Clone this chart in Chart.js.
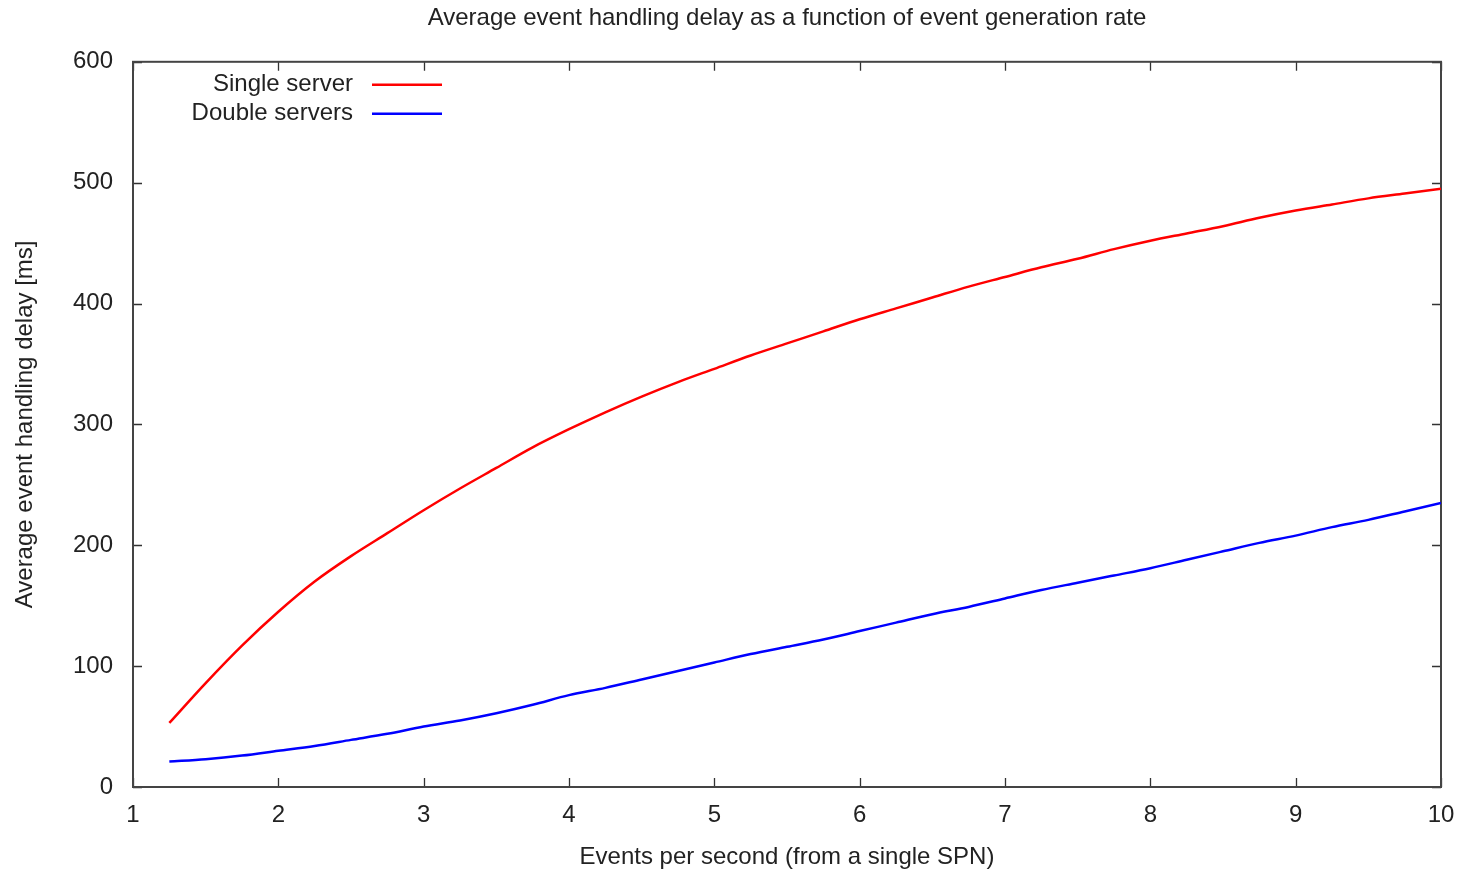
<!DOCTYPE html>
<html>
<head>
<meta charset="utf-8">
<title>Average event handling delay</title>
<script src="https://cdn.jsdelivr.net/npm/chart.js@4.4.1/dist/chart.umd.min.js"></script>
<style>
  html, body { margin: 0; padding: 0; background: #fff; overflow: hidden; }
  #wrap { width: 1459px; height: 872px; }
</style>
</head>
<body>
<div id="wrap"><canvas id="delayChart"></canvas></div>
<script>
// events per second (x) and average delay in ms
const rates = [1.25, 1.5, 1.75, 2, 2.25, 2.5, 2.75, 3, 3.25, 3.5, 3.75, 4, 4.25, 4.5, 4.75, 5,
  5.25, 5.5, 5.75, 6, 6.25, 6.5, 6.75, 7, 7.25, 7.5, 7.75, 8, 8.25, 8.5, 8.75, 9, 9.25, 9.5, 9.75, 10];
const singleServer = [53, 86, 117, 145, 170, 191, 210, 229, 247, 264, 281, 296, 310, 323, 335, 346,
  357, 367, 377, 387, 396, 405, 414, 422, 430, 437, 445, 452, 458, 464, 471, 477, 482, 487, 491, 495];
const doubleServers = [21, 23, 26, 30, 34, 39, 44, 50, 55, 61, 68, 76, 82, 89, 96, 103,
  110, 116, 122, 129, 136, 143, 149, 156, 163, 169, 175, 181, 188, 195, 202, 208, 215, 221, 228, 235];
const xTicks = [1, 2, 3, 4, 5, 6, 7, 8, 9, 10];
const yTicks = [0, 100, 200, 300, 400, 500, 600];

const FONT = "'Liberation Sans', Arial, sans-serif";
const TEXT = '#222';

function toPoints(xs, ys) {
    return xs.map((x, i) => ({ x: x, y: ys[i] }));
}

// gnuplot-like frame with ticks pointing inward on all four sides
const framePlugin = {
    id: 'frame',
    beforeDatasetsDraw(chart) {
        const ctx = chart.ctx;
        const a = chart.chartArea;
        const xs = chart.scales.x, ys = chart.scales.y;
        const len = 9;
        ctx.save();
        ctx.strokeStyle = '#333';
        ctx.lineWidth = 1.3;
        ctx.beginPath();
        xTicks.forEach(v => {
            const px = Math.round(xs.getPixelForValue(v)) + 0.5;
            ctx.moveTo(px, a.bottom); ctx.lineTo(px, a.bottom - len);
            ctx.moveTo(px, a.top); ctx.lineTo(px, a.top + len);
        });
        yTicks.forEach(v => {
            const py = Math.round(ys.getPixelForValue(v)) + 0.5;
            ctx.moveTo(a.left, py); ctx.lineTo(a.left + len, py);
            ctx.moveTo(a.right, py); ctx.lineTo(a.right - len, py);
        });
        ctx.stroke();
        ctx.strokeStyle = '#444';
        ctx.lineWidth = 2;
        ctx.strokeRect(a.left, a.top, a.right - a.left, a.bottom - a.top);
        ctx.restore();
    }
};

// legend in the top-left: label right-aligned, sample line to its right
const keyPlugin = {
    id: 'key',
    afterDatasetsDraw(chart) {
        const ctx = chart.ctx;
        const a = chart.chartArea;
        ctx.save();
        ctx.font = '24px ' + FONT;
        ctx.textAlign = 'right';
        ctx.textBaseline = 'middle';
        chart.data.datasets.forEach((ds, i) => {
            const y = a.top + 23 + i * 29;
            ctx.fillStyle = TEXT;
            ctx.fillText(ds.label, a.left + 220, y);
            ctx.strokeStyle = ds.borderColor;
            ctx.lineWidth = 2.5;
            ctx.beginPath();
            ctx.moveTo(a.left + 239, y);
            ctx.lineTo(a.left + 309, y);
            ctx.stroke();
        });
        ctx.restore();
    }
};

new Chart(document.getElementById('delayChart'), {
    type: 'line',
    data: {
        datasets: [{
            label: 'Single server',
            data: toPoints(rates, singleServer),
            borderColor: '#ff0000',
            borderWidth: 2.5,
            pointRadius: 0,
            cubicInterpolationMode: 'monotone',
            fill: false
        }, {
            label: 'Double servers',
            data: toPoints(rates, doubleServers),
            borderColor: '#0000ff',
            borderWidth: 2.5,
            pointRadius: 0,
            cubicInterpolationMode: 'monotone',
            fill: false
        }]
    },
    options: {
        responsive: true,
        maintainAspectRatio: false,
        animation: false,
        layout: { padding: { top: 0, right: 18, bottom: 0, left: 0 } },
        plugins: {
            legend: { display: false },
            tooltip: { enabled: false },
            title: {
                display: true,
                fullSize: false,
                text: 'Average event handling delay as a function of event generation rate',
                color: TEXT,
                font: { family: FONT, size: 24, weight: 'normal' },
                padding: { top: 4, bottom: 29 }
            }
        },
        scales: {
            x: {
                type: 'linear',
                min: 1,
                max: 10,
                afterFit: scale => {
                    scale.height = 85;
                    scale.paddingLeft = 0;
                    scale.paddingRight = 0;
                },
                afterBuildTicks: scale => { scale.ticks = xTicks.map(v => ({ value: v })); },
                grid: { display: false, drawTicks: false },
                border: { display: false },
                ticks: { color: TEXT, font: { family: FONT, size: 24 }, padding: 14, maxRotation: 0 },
                title: {
                    display: true,
                    text: 'Events per second (from a single SPN)',
                    color: TEXT,
                    font: { family: FONT, size: 24 },
                    padding: { top: 0, bottom: 0 }
                }
            },
            y: {
                min: 0,
                max: 600,
                afterFit: scale => { scale.width = 133; },
                afterBuildTicks: scale => { scale.ticks = yTicks.map(v => ({ value: v })); },
                grid: { display: false, drawTicks: false },
                border: { display: false },
                ticks: { color: TEXT, font: { family: FONT, size: 24 }, padding: 20 },
                title: {
                    display: true,
                    text: 'Average event handling delay [ms]',
                    color: TEXT,
                    font: { family: FONT, size: 24 },
                    padding: { top: 11, bottom: 0 }
                }
            }
        }
    },
    plugins: [framePlugin, keyPlugin]
});
</script>
</body>
</html>
